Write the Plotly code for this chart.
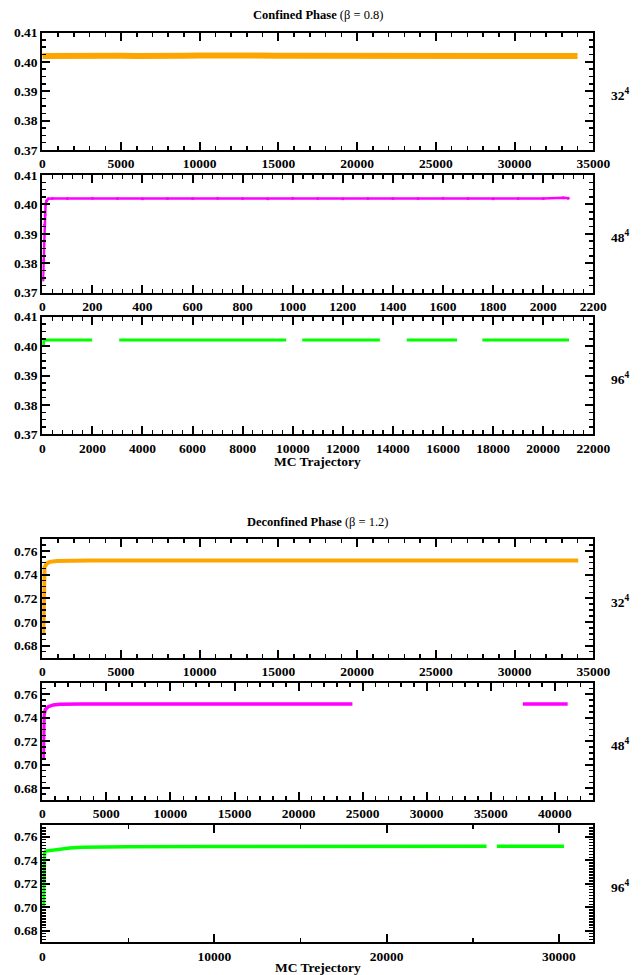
import plotly.graph_objects as go

# ---------------- data ----------------
# Confined phase (beta = 0.8)
conf32_x = [0, 1000, 2000, 3000, 4000, 5000, 6000, 7000, 8000, 9000, 10000, 11000, 12000,
            13000, 14000, 15000, 16000, 17000, 18000, 19000, 20000, 21000, 22000, 23000,
            24000, 25000, 26000, 27000, 28000, 29000, 30000, 31000, 32000, 33000, 34000]
conf32_y = [0.4020, 0.4021, 0.4021, 0.4022, 0.4021, 0.4021, 0.4020, 0.4022, 0.4021, 0.4021,
            0.4022, 0.4021, 0.4021, 0.4022, 0.4020, 0.4021, 0.4021, 0.4021, 0.4022, 0.4023,
            0.4021, 0.4021, 0.4020, 0.4021, 0.4022, 0.4021, 0.4021, 0.4021, 0.4022, 0.4021,
            0.4020, 0.4021, 0.4021, 0.4020, 0.4020]

conf48_x = [3, 5, 7, 9, 11, 13, 17, 24, 40, 100, 200, 300, 400, 500, 600, 700, 800, 900, 1000,
            1100, 1200, 1300, 1400, 1500, 1600, 1700, 1800, 1900, 2000, 2080, 2100]
conf48_y = [0.3743, 0.3810, 0.3874, 0.3931, 0.3965, 0.4000, 0.4012, 0.4019, 0.4020, 0.4020,
            0.4021, 0.4020, 0.4019, 0.4020, 0.4020, 0.4021, 0.4020, 0.4019, 0.4021, 0.4020,
            0.4019, 0.4020, 0.4020, 0.4020, 0.4021, 0.4020, 0.4019, 0.4020, 0.4020, 0.4023,
            0.4021]

conf96_x = [40, 60, 500, 1000, 1500, 1990, None, 3070, 5000, 7000, 9740, None,
            10380, 12000, 13480, None, 14550, 16560, None, 17570, 19000, 21030]
conf96_y = [0.4000, 0.4021, 0.4021, 0.4021, 0.4021, 0.4021, None, 0.4021, 0.4021, 0.4021, 0.4021, None,
            0.4021, 0.4021, 0.4021, None, 0.4021, 0.4021, None, 0.4021, 0.4021, 0.4021]

# Deconfined phase (beta = 1.2)
dec32_x = [70, 80, 90, 100, 140, 275, 487, 910, 1546, 3000, 5000, 8000, 12000, 16000, 20000,
           24000, 28000, 32000, 34040]
dec32_y = [0.690, 0.700, 0.722, 0.739, 0.746, 0.7493, 0.7507, 0.7514, 0.7517, 0.7518, 0.7518,
           0.7519, 0.7518, 0.7519, 0.7518, 0.7519, 0.7518, 0.7518, 0.7518]

dec48_x = [80, 90, 100, 140, 234, 467, 857, 1376, 3000, 6000, 10000, 15000, 20000, 24200, None,
           37500, 41000]
dec48_y = [0.705, 0.7120, 0.7309, 0.7423, 0.7471, 0.7494, 0.7509, 0.7515, 0.7517, 0.7517,
           0.7517, 0.7517, 0.7517, 0.7517, None, 0.7517, 0.7517]

dec96_x = [70, 80, 90, 100, 130, 200, 400, 700, 1100, 1600, 2300, 3500, 5000, 10000, 15000,
           20000, 25800, None, 26400, 30300]
dec96_y = [0.700, 0.722, 0.735, 0.742, 0.7465, 0.7478, 0.7483, 0.7490, 0.7500, 0.7505, 0.7510,
           0.7513, 0.7515, 0.7516, 0.7517, 0.7517, 0.7518, None, 0.7518, 0.7518]

lattice_labels = ["32", "48", "96", "32", "48", "96"]
phase_titles = ["Confined Phase", "Deconfined Phase"]
phase_betas = ["(β = 0.8)", "(β = 1.2)"]
xaxis_titles = ["MC Trajectory", "MC Trejectory"]

# ---------------- layout constants ----------------
W, H = 641, 975


def px_x(px):
    return px / W


def px_y(py):
    return 1 - py / H


XL, XR = 42.3, 593.3
panels_px = [(32.5, 150.0), (175.0, 292.6), (316.7, 434.3),
             (539.0, 657.5), (682.5, 800.0), (825.0, 942.4)]
xranges = [[0, 35000], [0, 2200], [0, 22000], [0, 35000], [0, 43000], [0, 32000]]
xdticks = [5000, 200, 2000, 5000, 5000, 10000]
xminor = [1000, 40, 400, 1000, 1000, 5000]
yranges = [[0.37, 0.41]] * 3 + [[0.67, 0.77]] * 3
ydticks = [0.01] * 3 + [0.02] * 3
ytick0 = [0.37] * 3 + [0.68] * 3
yminor = [0.0025] * 3 + [0.005, 0.005, 0.0025]

series = [
    (conf32_x, conf32_y, "#FFA500", 6, "lines"),
    (conf48_x, conf48_y, "#FF00FF", 2.5, "lines+markers"),
    (conf96_x, conf96_y, "#00FF00", 3, "lines"),
    (dec32_x, dec32_y, "#FFA500", 4, "lines"),
    (dec48_x, dec48_y, "#FF00FF", 3.5, "lines"),
    (dec96_x, dec96_y, "#00FF00", 3.5, "lines"),
]

FONT = "Liberation Serif, Times New Roman, serif"
fig = go.Figure()

layout = dict(
    width=W, height=H, autosize=False,
    margin=dict(l=0, r=0, t=0, b=0, pad=0),
    paper_bgcolor="white", plot_bgcolor="white",
    showlegend=False,
    font=dict(family=FONT, color="black"),
)

annotations = []
for i, (sx, sy, col, lw, mode) in enumerate(series):
    n = i + 1
    xa = "x" if n == 1 else f"x{n}"
    ya = "y" if n == 1 else f"y{n}"
    fig.add_trace(go.Scatter(
        x=sx, y=sy, mode=mode, xaxis=xa, yaxis=ya,
        line=dict(color=col, width=lw), marker=dict(color=col, size=3),
        connectgaps=False, hoverinfo="skip", cliponaxis=True))
    top, bot = panels_px[i]
    common = dict(
        showline=True, linewidth=2, linecolor="black", mirror="allticks",
        ticks="inside", ticklen=8, tickwidth=2, tickcolor="black",
        showgrid=False, zeroline=False, automargin=False,
        tickfont=dict(family=FONT, size=13.5, color="black", weight="bold"),
    )
    layout["xaxis" if n == 1 else f"xaxis{n}"] = dict(
        common, domain=[px_x(XL), px_x(XR)], anchor=ya, range=xranges[i],
        tick0=0, dtick=xdticks[i], tickformat="d",
        minor=dict(ticks="inside", ticklen=4, tickwidth=1.5, tickcolor="black",
                   dtick=xminor[i], showgrid=False),
    )
    layout["yaxis" if n == 1 else f"yaxis{n}"] = dict(
        common, domain=[px_y(bot), px_y(top)], anchor=xa, range=yranges[i],
        tick0=ytick0[i], dtick=ydticks[i], tickformat=".2f",
        minor=dict(ticks="inside", ticklen=4, tickwidth=1.5, tickcolor="black",
                   dtick=yminor[i], tick0=ytick0[i], showgrid=False),
    )
    annotations.append(dict(
        text=f"<b>{lattice_labels[i]}<sup>4</sup></b>", x=px_x(609), y=px_y((top + bot) / 2 + 3),
        xref="paper", yref="paper", xanchor="left", yanchor="middle", showarrow=False,
        font=dict(family=FONT, size=13.5, color="black")))

for k, ypx in enumerate([15.0, 521.5]):
    annotations.append(dict(
        text=f"<b>{phase_titles[k]}</b> {phase_betas[k]}", x=px_x((XL + XR) / 2), y=px_y(ypx),
        xref="paper", yref="paper", xanchor="center", yanchor="middle", showarrow=False,
        font=dict(family=FONT, size=12.5, color="black")))

for k, ypx in enumerate([461.7, 967.5]):
    annotations.append(dict(
        text=f"<b>{xaxis_titles[k]}</b>", x=px_x((XL + XR) / 2), y=px_y(ypx),
        xref="paper", yref="paper", xanchor="center", yanchor="middle", showarrow=False,
        font=dict(family=FONT, size=13.5, color="black")))

layout["annotations"] = annotations
fig.update_layout(**layout)
# remove the browser's default 8px page margin so the 641x975 figure fills the window
fig.write_html("out.html", config={"displayModeBar": False, "staticPlot": True},
               post_script="document.body.style.margin='0';document.body.style.overflow='hidden';")
